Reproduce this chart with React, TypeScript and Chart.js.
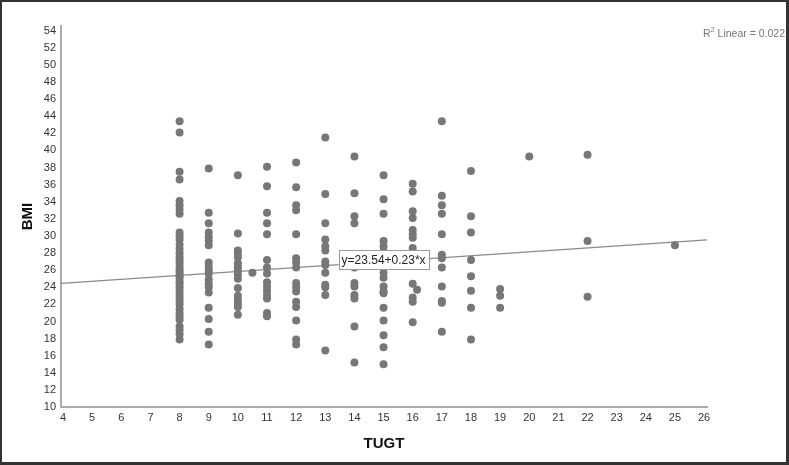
import { useEffect, useRef } from "react";
import { Chart, registerables } from "chart.js";

Chart.register(...registerables);

// TUGT groups and the BMI values read at each
const bmiAt8 = [43.4, 42.1, 37.5, 36.6, 34.1, 33.6, 33.1, 32.6, 30.4, 30.0, 29.6, 29.0, 28.5, 28.0, 27.6, 27.2, 26.8, 26.4, 26.0, 25.7, 25.4, 25.1, 24.7, 24.4, 24.0, 23.6, 23.2, 22.8, 22.4, 22.0, 21.5, 21.0, 20.6, 20.2, 19.4, 19.0, 18.5, 17.9];
const bmiAt9 = [37.9, 32.7, 31.5, 30.4, 29.9, 29.4, 28.9, 26.9, 26.4, 26.0, 25.6, 24.9, 24.4, 24.0, 23.4, 21.6, 20.3, 18.8, 17.3];
const bmiAt10 = [37.1, 30.3, 28.3, 27.9, 27.5, 26.8, 26.4, 26.0, 25.5, 25.0, 23.9, 23.0, 22.5, 22.1, 21.7, 20.8];
const bmiAt11 = [38.1, 35.8, 32.7, 31.5, 30.2, 27.2, 26.3, 25.6, 24.6, 24.1, 23.6, 23.1, 22.7, 21.0, 20.6];
const bmiAt12 = [38.6, 35.7, 33.6, 33.0, 30.2, 27.4, 26.9, 26.3, 24.5, 24.0, 23.5, 22.3, 21.7, 20.1, 17.9, 17.3];
const bmiAt13 = [41.5, 34.9, 31.5, 29.6, 28.8, 28.3, 27.0, 26.6, 25.7, 24.3, 24.0, 23.1, 16.6];
const bmiAt14 = [39.3, 35.0, 32.3, 31.5, 26.3, 24.5, 24.1, 23.1, 22.7, 19.4, 15.2];
const bmiAt15 = [37.1, 34.3, 32.6, 29.4, 28.8, 28.2, 27.6, 27.2, 26.8, 26.4, 25.7, 25.1, 24.1, 23.5, 23.3, 21.6, 20.1, 18.4, 17.0, 15.0];
const bmiAt16 = [36.1, 35.2, 32.9, 32.1, 30.7, 30.2, 29.8, 28.6, 27.2, 24.4, 22.8, 22.3, 19.9];
const bmiAt17 = [43.4, 34.7, 33.6, 32.6, 30.2, 27.8, 27.4, 26.3, 24.1, 22.4, 22.2, 18.8];
const bmiAt18 = [37.6, 32.3, 30.4, 27.2, 25.3, 23.6, 21.6, 17.9];
const bmiAt19 = [23.8, 23.0, 21.6];
const bmiAt20 = [39.3];
const bmiAt22 = [39.5, 29.4, 22.9];
const bmiAt25 = [28.9];
// isolated points off the integer columns
const extraTugt = [10.5, 16.15];
const extraBmi = [25.7, 23.7];

const tugtGroups = [8, 9, 10, 11, 12, 13, 14, 15, 16, 17, 18, 19, 20, 22, 25];
const bmiGroups = [bmiAt8, bmiAt9, bmiAt10, bmiAt11, bmiAt12, bmiAt13, bmiAt14, bmiAt15, bmiAt16, bmiAt17, bmiAt18, bmiAt19, bmiAt20, bmiAt22, bmiAt25];

// fit line y = intercept + slope * x
const intercept = 23.54;
const slope = 0.23;
const rSquared = "0.022";

const xMin = 3.93;
const xMax = 26.1;
const yMin = 10;
const yMax = 54.55;

const FONT = "'Liberation Sans', Arial, sans-serif";

export default function App() {
  const ref = useRef<HTMLCanvasElement | null>(null);

  useEffect(() => {
    if (!ref.current) return;
    const points: { x: number; y: number }[] = [];
    tugtGroups.forEach((t, i) => bmiGroups[i].forEach((b) => points.push({ x: t, y: b })));
    extraTugt.forEach((t, i) => points.push({ x: t, y: extraBmi[i] }));

    const fitLine = [
      { x: xMin, y: intercept + slope * xMin },
      { x: xMax, y: intercept + slope * xMax },
    ];

    const overlay = {
      id: "overlay",
      afterDraw(chart: any) {
        const { ctx } = chart;
        const xs = chart.scales.x;
        const ys = chart.scales.y;
        ctx.save();
        // equation label on the fit line at x = 15
        const lx = xs.getPixelForValue(15);
        const ly = ys.getPixelForValue(intercept + slope * 15) - 2;
        const text = `y=${intercept.toFixed(2)}+${slope.toFixed(2)}*x`;
        ctx.font = `12px ${FONT}`;
        const w = ctx.measureText(text).width + 6;
        const h = 19;
        ctx.fillStyle = "#ffffff";
        ctx.fillRect(lx - w / 2, ly - h / 2, w, h);
        ctx.strokeStyle = "#9a9a9a";
        ctx.lineWidth = 1;
        ctx.strokeRect(Math.round(lx - w / 2) + 0.5, Math.round(ly - h / 2) + 0.5, Math.round(w), h);
        ctx.fillStyle = "#222";
        ctx.textAlign = "center";
        ctx.textBaseline = "middle";
        ctx.fillText(text, lx, ly + 1);

        // R² annotation, right-aligned against the frame
        ctx.textAlign = "left";
        ctx.fillStyle = "#777";
        const mainFont = `10.5px ${FONT}`;
        const supFont = `7.5px ${FONT}`;
        const rest = " Linear = " + rSquared;
        ctx.font = mainFont;
        const wR = ctx.measureText("R").width;
        const wRest = ctx.measureText(rest).width;
        ctx.font = supFont;
        const w2 = ctx.measureText("2").width;
        let x = 785 - (wR + w2 + wRest);
        const y = 34;
        ctx.font = mainFont;
        ctx.fillText("R", x, y);
        x += wR;
        ctx.font = supFont;
        ctx.fillText("2", x, y - 4);
        x += w2;
        ctx.font = mainFont;
        ctx.fillText(rest, x, y);

        // outer frame
        ctx.fillStyle = "#333";
        const W = chart.width;
        const H = chart.height;
        ctx.fillRect(0, 0, W, 2);
        ctx.fillRect(0, 0, 2, H);
        ctx.fillRect(W - 3, 0, 3, H);
        ctx.fillRect(0, H - 3, W, 3);
        ctx.restore();
      },
    };

    const chart = new Chart(ref.current, {
      type: "scatter",
      data: {
        datasets: [
          {
            type: "line",
            label: "Fit",
            data: fitLine,
            borderColor: "#8a8a8a",
            borderWidth: 1.2,
            pointRadius: 0,
            fill: false,
            order: 2,
          } as any,
          {
            label: "BMI",
            data: points,
            backgroundColor: "#777777",
            borderWidth: 0,
            pointRadius: 4,
            order: 1,
          },
        ],
      },
      options: {
        animation: false,
        responsive: false,
        events: [],
        layout: { padding: { left: 0, top: 26, right: 82, bottom: 0 } },
        plugins: { legend: { display: false }, tooltip: { enabled: false } },
        scales: {
          x: {
            type: "linear",
            min: xMin,
            max: xMax,
            afterBuildTicks: (s: any) => {
              const t = [];
              for (let v = 4; v <= 26; v++) t.push({ value: v });
              s.ticks = t;
            },
            afterFit: (s: any) => {
              s.height = 58;
            },
            grid: { display: false, drawTicks: false },
            border: { display: true, color: "#ababab", width: 2 },
            ticks: { color: "#333", font: { family: FONT, size: 11 }, padding: 4, autoSkip: false, maxRotation: 0 },
            title: {
              display: true,
              text: "TUGT",
              color: "#111",
              font: { family: FONT, size: 15, weight: "bold" },
              padding: { top: 0, bottom: 12 },
            },
          },
          y: {
            type: "linear",
            min: yMin,
            max: yMax,
            afterBuildTicks: (s: any) => {
              const t = [];
              for (let v = 10; v <= 54; v += 2) t.push({ value: v });
              s.ticks = t;
            },
            afterFit: (s: any) => {
              s.width = 61;
            },
            grid: { display: false, drawTicks: false },
            border: { display: true, color: "#ababab", width: 2 },
            ticks: { color: "#333", font: { family: FONT, size: 11 }, padding: 5, autoSkip: false },
            title: {
              display: true,
              text: "BMI",
              color: "#111",
              font: { family: FONT, size: 15, weight: "bold" },
              padding: { top: 19, bottom: 0 },
            },
          },
        },
      },
      plugins: [overlay],
    });
    return () => chart.destroy();
  }, []);

  return (
    <div style={{ position: "absolute", left: 0, top: 0, width: 789, height: 465, background: "#fff" }}>
      <canvas ref={ref} width={789} height={465} style={{ display: "block", width: 789, height: 465 }} />
    </div>
  );
}
